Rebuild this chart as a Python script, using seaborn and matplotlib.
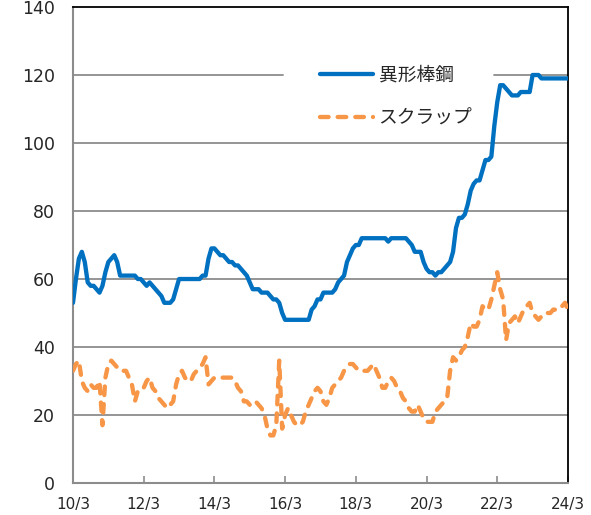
import numpy as np
import pandas as pd
import seaborn as sns
import matplotlib
matplotlib.use("Agg")
from matplotlib import pyplot as plt

# monthly values, 2010/3 .. 2024/3 (169 months)
rebar = [53, 60, 66, 68, 65, 59, 58, 58, 57, 56, 58, 62, 65, 66, 67, 65, 61, 61, 61, 61,
         61, 61, 60, 60, 59, 58, 59, 58, 57, 56, 55, 53, 53, 53, 54, 57, 60, 60, 60, 60,
         60, 60, 60, 60, 61, 61, 66, 69, 69, 68, 67, 67, 66, 65, 65, 64, 64, 63, 62, 61,
         59, 57, 57, 57, 56, 56, 56, 55, 54, 54, 53, 50, 48, 48, 48, 48, 48, 48, 48, 48,
         48, 51, 52, 54, 54, 56, 56, 56, 56, 57, 59, 60, 61, 65, 67, 69, 70, 70, 72, 72,
         72, 72, 72, 72, 72, 72, 72, 71, 72, 72, 72, 72, 72, 72, 71, 70, 68, 68, 68, 65,
         63, 62, 62, 61, 62, 62, 63, 64, 65, 68, 75, 78, 78, 79, 82, 86, 88, 89, 89, 92,
         95, 95, 96, 105, 112, 117, 117, 116, 115, 114, 114, 114, 115, 115, 115, 115, 120, 120, 120, 119,
         119, 119, 119, 119, 119, 119, 119, 119, 119]
scrap = [33, 35, 36, 30, 28, 27, 29, 28, 28, 30, 17, 31, 35, 36, 35, 34, 33, 33, 33, 31,
         29, 24, 27, 28, 28, 30, 31, 28, 27, 25, 24, 23, 22, 23, 24, 29, 32, 33, 31, 30,
         30, 32, 33, 34, 35, 37, 29, 30, 31, 31, 31, 31, 31, 31, 31, 30, 28, 27, 24, 24,
         23, 23, 24, 23, 22, 20, 16, 14, 14, 17, 36, 16, 20, 22, 20, 18, 17, 17, 18, 21,
         23, 25, 27, 28, 27, 24, 23, 25, 28, 29, 30, 31, 33, 34, 35, 35, 34, 33, 33, 33,
         33, 34, 35, 33, 31, 28, 28, 30, 31, 30, 28, 27, 25, 24, 22, 21, 21, 23, 21, 19,
         18, 18, 18, 21, 22, 23, 24, 25, 33, 37, 36, 37, 39, 40, 43, 47, 46, 46, 48, 52,
         51, 51, 54, 58, 62, 57, 54, 42, 47, 48, 49, 47, 49, 51, 52, 53, 50, 49, 48, 49,
         50, 50, 50, 51, 51, 51, 52, 53, 51]
tick_labels = ['10/3', '12/3', '14/3', '16/3', '18/3', '20/3', '22/3', '24/3']
series_names = ['異形棒鋼', 'スクラップ']

df = pd.DataFrame({'month': np.arange(len(rebar)), 'rebar': rebar, 'scrap': scrap})

sns.set_style('white')
plt.rcParams['font.family'] = ['DejaVu Sans', 'Noto Sans CJK JP']

fig = plt.figure(figsize=(5.91, 5.15), dpi=100)
ax = fig.add_axes([0.1235, 0.0621, 0.8375, 0.9243])

grid_col = '#8c8c8c'
for v in range(20, 140, 20):
    if v == 120:
        # legend area interrupts this gridline
        ax.axhline(v, xmax=0.424, color=grid_col, linewidth=1.3, zorder=0)
        ax.axhline(v, xmin=0.851, color=grid_col, linewidth=1.3, zorder=0)
    else:
        ax.axhline(v, color=grid_col, linewidth=1.3, zorder=0)

sns.lineplot(data=df, x='month', y='rebar', ax=ax, color='#0070C0', linewidth=3.1,
             label=series_names[0], zorder=3)
sns.lineplot(data=df, x='month', y='scrap', ax=ax, color='#F79646', linewidth=3.1,
             linestyle=(0, (2.0, 2.1)), dash_capstyle='round',
             label=series_names[1], zorder=3)

ax.set_xlim(0, 168)
ax.set_ylim(0, 140)
ax.set_xticks(np.arange(0, 169, 24))
ax.set_xticklabels(tick_labels)
ax.set_yticks(np.arange(0, 141, 20))
ax.set_xlabel('')
ax.set_ylabel('')
ax.tick_params(axis='x', direction='in', length=5, width=1.2, color=grid_col,
               labelsize=11, pad=10, bottom=True)
ax.tick_params(axis='y', length=0, labelsize=12.5, pad=13)

for s in ['left', 'bottom']:
    ax.spines[s].set_color(grid_col)
    ax.spines[s].set_linewidth(1.5)
for s in ['top', 'right']:
    ax.spines[s].set_color('black')
    ax.spines[s].set_linewidth(1.3)

leg = ax.legend(loc='upper left', bbox_to_anchor=(0.408, 0.973), frameon=False,
                handlelength=2.83, handletextpad=0.3, labelspacing=1.17,
                borderpad=1.9, prop={'family': ['Noto Sans CJK JP'], 'size': 13.5})

fig.savefig('out.png', dpi=100)
